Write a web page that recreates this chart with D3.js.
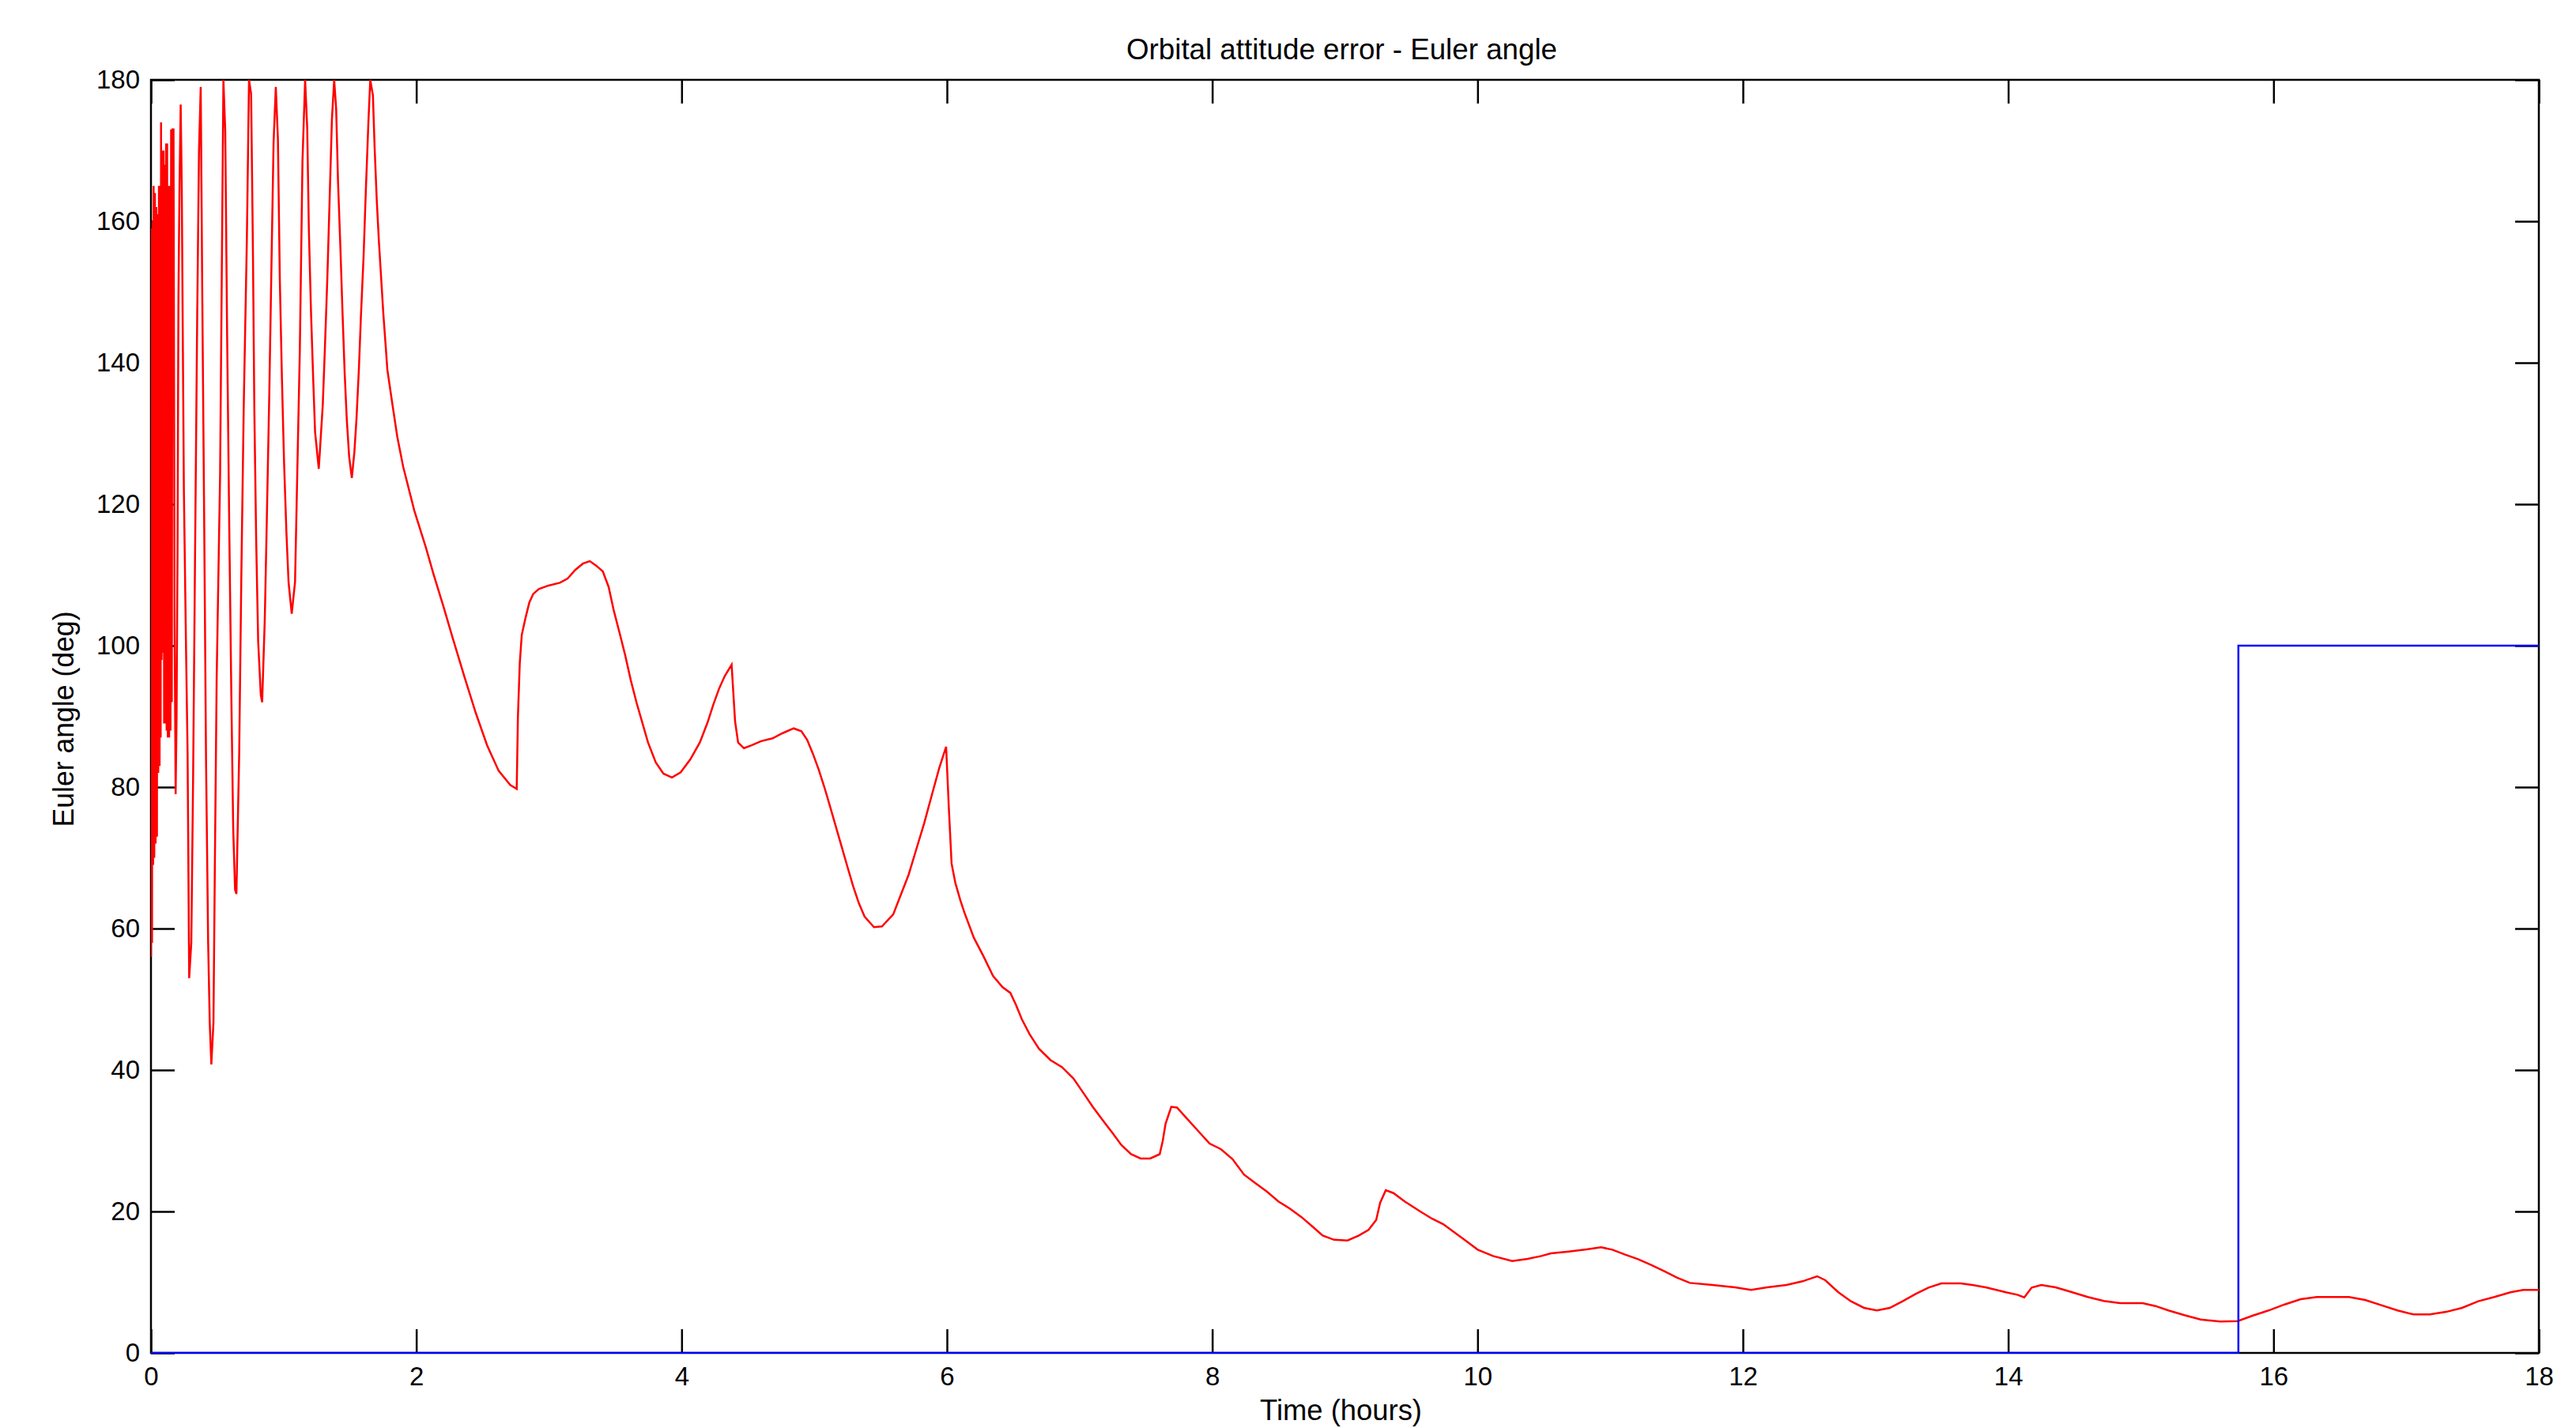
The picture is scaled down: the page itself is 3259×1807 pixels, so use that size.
<!DOCTYPE html>
<html>
<head>
<meta charset="utf-8">
<script src="https://cdn.jsdelivr.net/npm/d3@7"></script>
<style>
  html, body { margin: 0; padding: 0; background: #ffffff; }
  svg { display: block; }
  text { font-family: "Liberation Sans", Arial, Helvetica, sans-serif; fill: #000; }
</style>
</head>
<body>
<svg id="chart" width="3259" height="1807"></svg>
<script>
// ---------------- DATA ----------------
const titleText = "Orbital attitude error - Euler angle";
const xLabelText = "Time (hours)";
const yLabelText = "Euler angle (deg)";

const xTicks = [0, 2, 4, 6, 8, 10, 12, 14, 16, 18];
const yTicks = [0, 20, 40, 60, 80, 100, 120, 140, 160, 180];

// Red series: Euler angle error (deg) vs time (hours)
const errorTime = [
  0.000,0.004,0.008,0.012,0.016,0.020,0.025,0.030,0.035,0.040,0.045,0.050,0.055,0.060,0.065,0.070,0.073,0.076,0.080,0.085,
  0.090,0.095,0.099,0.104,0.109,0.114,0.118,0.122,0.127,0.132,0.137,0.142,0.147,0.152,0.157,0.162,
  0.170,0.178,0.186,0.193,0.200,0.207,0.215,0.224,
  0.232,0.248,0.264,0.276,0.288,
  0.304,0.318,0.332,0.348,0.362,0.375,
  0.387,0.401,0.415,0.431,0.443,0.455,
  0.471,0.481,0.495,0.511,0.521,0.534,0.546,
  0.560,0.574,0.590,0.606,0.620,0.634,0.644,
  0.665,0.681,0.699,0.723,0.739,
  0.755,0.769,0.779,0.793,0.808,0.828,0.838,
  0.858,0.874,0.892,0.908,0.924,0.941,
  0.957,0.971,0.987,1.003,1.021,1.037,1.061,
  1.086,1.102,1.122,1.142,1.162,
  1.178,1.190,1.206,1.222,1.237,1.265,
  1.295,1.311,1.329,1.345,1.364,1.381,
  1.396,1.410,1.428,1.444,1.460,1.476,1.494,1.514,
  1.533,1.549,1.567,1.583,1.603,1.619,1.639,1.653,
  1.673,1.686,1.702,1.718,1.736,1.752,1.768,1.782,1.817,1.857,1.901,
  1.985,2.072,2.130,2.202,2.274,2.361,2.448,2.534,2.621,2.708,2.757,2.766,2.780,2.795,2.823,2.852,2.881,2.924,2.997,
  3.083,3.141,3.198,3.256,3.308,3.357,3.406,3.450,3.487,3.531,3.574,3.617,3.661,3.704,3.747,3.805,3.863,3.927,3.993,
  4.065,4.137,4.195,4.238,4.282,4.325,4.377,4.388,4.403,4.426,4.470,4.527,4.599,4.686,4.758,4.845,4.903,4.946,4.990,
  5.033,5.076,5.120,5.163,5.206,5.249,5.293,5.336,5.379,5.450,5.510,5.595,5.653,5.711,5.769,5.827,5.885,5.942,5.994,
  6.014,6.035,6.064,6.101,6.131,6.203,6.275,6.348,6.420,6.478,6.521,6.564,6.622,6.694,6.781,6.868,6.954,
  7.027,7.099,7.171,7.244,7.315,7.388,7.460,7.532,7.604,7.627,7.648,7.691,7.734,7.806,7.893,7.980,
  8.066,8.153,8.240,8.326,8.413,8.500,8.586,8.673,8.760,8.832,8.918,
  9.020,9.106,9.178,9.236,9.265,9.308,9.366,9.452,9.568,9.655,9.741,9.828,9.915,
  10.001,10.117,10.261,10.377,10.480,10.553,10.687,10.821,10.931,
  11.016,11.113,11.210,11.308,11.405,11.502,11.600,11.770,11.940,
  12.062,12.183,12.329,12.451,12.560,12.621,12.718,12.815,12.913,
  13.010,13.107,13.204,13.302,13.399,13.496,13.642,13.739,13.837,13.983,
  14.068,14.121,14.177,14.250,14.357,14.478,14.600,14.721,14.843,
  15.013,15.110,15.208,15.329,15.451,15.597,15.730,15.840,15.962,
  16.083,16.205,16.326,16.569,16.691,16.813,16.935,
  17.056,17.178,17.300,17.421,17.543,17.664,17.786,17.883,18.000
];
const errorDeg = [
  56,159,58,160,69,165,70,164,72,162,73,161,82,165,83,165,87,174,98,170,
  99,170,89,168,89,171,88,171,87,165,87,165,88,173,92,173,
  173,103,79,90,113,149,165,176.5,
  165,122,100,84.8,53,
  58,82,112,145.6,170,179,
  149,118,84,58,46.7,40.8,
  46.7,67.7,95,113,124,153,180,
  172.7,144,117,92.6,74,65.5,64.9,
  84.7,109.6,133.5,157.6,180,
  178,155,133.7,115,100.6,93,92,
  103.8,118.5,135.7,153.5,171,179,
  171.6,152,137.9,126,116,109,104.5,
  109,123.6,141.7,168.5,180,
  173,159,147.4,138.2,130.2,125,
  134,142,151.7,162,174.4,180,
  175.9,165.6,156.2,147,138.6,132,126.7,123.7,
  127.3,132,139,146.7,155.2,164,174,180,
  177.8,170.4,163,157.2,151.7,146.8,142.7,139,134.5,129.5,125.3,
  119.1,113.9,110.1,105.7,101.1,95.7,90.5,85.9,82.3,80.3,79.75,89.9,97.5,101.5,103.9,106.1,107.3,108,108.5,
  108.9,109.5,110.7,111.6,111.95,111.3,110.5,108.3,105.1,101.9,98.7,95.1,91.9,89.1,86.3,83.5,81.9,81.35,82.1,
  83.9,86.3,89.1,91.6,93.9,95.7,97.3,93.9,89.3,86.3,85.5,85.9,86.5,86.9,87.6,88.3,87.9,86.7,84.7,
  82.5,80,77.2,74.4,71.6,68.8,66,63.6,61.7,60.2,60.3,62,64.8,67.6,71.2,74.8,78.8,82.7,85.7,
  77.2,69.2,66.4,64,62.3,58.7,56.1,53.3,51.7,50.9,49.2,47.2,45.1,43,41.4,40.4,38.8,
  36.8,34.8,33,31.2,29.4,28.1,27.5,27.5,28.1,30,32.4,34.8,34.7,33.2,31.4,29.6,
  28.8,27.4,25.2,24,22.8,21.4,20.4,19.2,17.8,16.6,16,
  15.9,16.6,17.4,18.8,21.2,23,22.6,21.4,20,19,18.2,17,15.8,
  14.6,13.7,13,13.3,13.7,14.08,14.34,14.64,14.93,
  14.6,13.9,13.26,12.44,11.58,10.65,9.9,9.6,9.27,
  8.9,9.27,9.6,10.13,10.84,10.28,8.6,7.3,6.37,
  6,6.37,7.3,8.34,9.24,9.83,9.83,9.57,9.24,8.57,
  8.23,7.86,9.24,9.6,9.27,8.6,7.9,7.34,7.04,
  7.04,6.63,6,5.33,4.73,4.43,4.5,5.25,6,
  6.85,7.6,7.9,7.9,7.49,6.74,6,
  5.44,5.44,5.8,6.37,7.3,7.9,8.57,8.9,8.9
];

// Blue series: mode / step signal
const stepTime = [0, 15.735, 15.735, 18];
const stepDeg  = [0, 0, 100, 100];

// ---------------- LAYOUT ----------------
const W = 3259, H = 1807;
const margin = { left: 191, top: 101, right: 47, bottom: 95 };
const iw = W - margin.left - margin.right;
const ih = H - margin.top - margin.bottom;

const svg = d3.select("#chart");
svg.append("rect").attr("width", W).attr("height", H).attr("fill", "#fff");

const x = d3.scaleLinear().domain([0, 18]).range([0, iw]);
const y = d3.scaleLinear().domain([0, 180]).range([ih, 0]);

const g = svg.append("g").attr("transform", `translate(${margin.left},${margin.top})`);

svg.append("defs").append("clipPath").attr("id", "plotclip")
  .append("rect").attr("x", 0).attr("y", -1).attr("width", iw).attr("height", ih + 2);

const tickLen = 30;
const axisStroke = 2.5;

// Axes with inward ticks
function styleAxis(sel) {
  sel.select(".domain").remove();
  sel.selectAll(".tick line").attr("stroke", "#000").attr("stroke-width", axisStroke);
}

const gxB = g.append("g").attr("transform", `translate(0,${ih})`)
  .call(d3.axisBottom(x).tickValues(xTicks).tickSize(-tickLen).tickSizeOuter(0).tickFormat(d3.format("d")));
styleAxis(gxB);
gxB.selectAll(".tick text").attr("y", 41).attr("dy", null)
  .attr("font-size", 33).attr("font-family", "Liberation Sans, Arial, sans-serif").attr("fill", "#000");

const gxT = g.append("g")
  .call(d3.axisTop(x).tickValues(xTicks).tickSize(-tickLen).tickSizeOuter(0).tickFormat(""));
styleAxis(gxT);

const gyL = g.append("g")
  .call(d3.axisLeft(y).tickValues(yTicks).tickSize(-tickLen).tickSizeOuter(0).tickFormat(d3.format("d")));
styleAxis(gyL);
gyL.selectAll(".tick text").attr("x", -14).attr("dy", null).attr("y", 10)
  .attr("font-size", 33).attr("font-family", "Liberation Sans, Arial, sans-serif").attr("fill", "#000");

const gyR = g.append("g").attr("transform", `translate(${iw},0)`)
  .call(d3.axisRight(y).tickValues(yTicks).tickSize(-tickLen).tickSizeOuter(0).tickFormat(""));
styleAxis(gyR);

// Box
g.append("rect").attr("x", 0).attr("y", 0).attr("width", iw).attr("height", ih)
  .attr("fill", "none").attr("stroke", "#000").attr("stroke-width", axisStroke);

// Data lines
const redData = errorTime.map((t, i) => [t, errorDeg[i]]);
const blueData = stepTime.map((t, i) => [t, stepDeg[i]]);
const line = d3.line().x(d => x(d[0])).y(d => y(d[1]));

const plot = g.append("g").attr("clip-path", "url(#plotclip)");
plot.append("path").datum(redData).attr("d", line)
  .attr("fill", "none").attr("stroke", "#ff0000").attr("stroke-width", 2.5)
  .attr("stroke-linejoin", "miter");
plot.append("path").datum(blueData).attr("d", line)
  .attr("fill", "none").attr("stroke", "#0000ff").attr("stroke-width", 2.5);

// Title and labels
svg.append("text").attr("x", margin.left + iw / 2 - 4).attr("y", 75)
  .attr("text-anchor", "middle").attr("font-size", 36)
  .attr("textLength", 545).attr("lengthAdjust", "spacingAndGlyphs")
  .text(titleText);

svg.append("text").attr("x", margin.left + iw / 2 - 5).attr("y", 1797)
  .attr("text-anchor", "middle").attr("font-size", 36)
  .attr("textLength", 205).attr("lengthAdjust", "spacingAndGlyphs")
  .text(xLabelText);

svg.append("text")
  .attr("transform", `translate(93,${910}) rotate(-90)`)
  .attr("text-anchor", "middle").attr("font-size", 36)
  .attr("textLength", 273).attr("lengthAdjust", "spacingAndGlyphs")
  .text(yLabelText);
</script>
</body>
</html>
